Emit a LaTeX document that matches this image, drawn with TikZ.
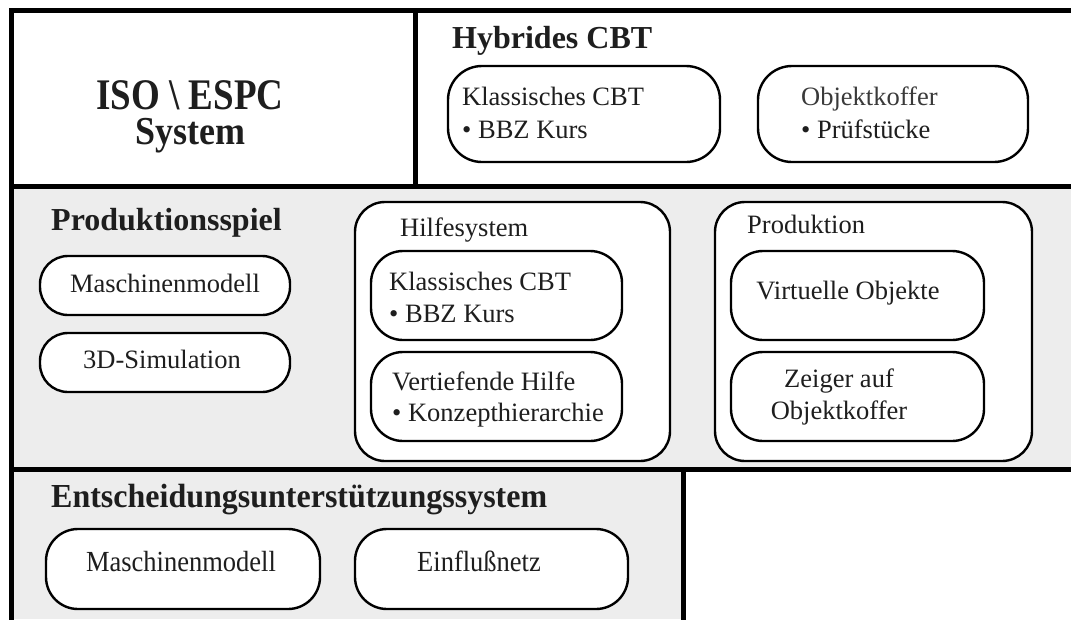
\documentclass[tikz,border=0pt]{standalone}
\usepackage{fontspec}
\setmainfont{Liberation Serif}
\usepackage{graphicx}
\definecolor{ink}{HTML}{1E1E1E}
\definecolor{softink}{HTML}{3A3A3A}
\definecolor{panel}{HTML}{EDEDED}
\tikzset{
  frameline/.style={line width=5pt, line cap=rect},
  rbox/.style={draw=black, line width=2.4pt, fill=white, rounded corners=#1},
  rbox/.default=30pt,
  txt/.style={inner sep=0pt, text=ink, font=\fontsize{26.5}{30}\selectfont},
  head/.style={inner sep=0pt, text=ink, font=\fontsize{32}{36}\selectfont\bfseries},
  bighead/.style={inner sep=0pt, text=ink, align=center,
    font={\fontsize{37}{35}\selectfont\bfseries}},
}
\begin{document}
\begin{tikzpicture}[x=1pt,y=-1pt]
\useasboundingbox (0,0) rectangle (1071,619);
% panels
\fill[panel] (11,186) rectangle (1071,469);
\fill[panel] (11,469) rectangle (683,619);
% frame lines
\coordinate (tl) at (11,10);
\coordinate (tr) at (1071,10);
\coordinate (bl) at (11,619);
\coordinate (s1l) at (11,186);
\coordinate (s1r) at (1071,186);
\coordinate (s2l) at (11,469);
\coordinate (s2r) at (1071,469);
\coordinate (dvt) at (415,10);
\coordinate (dvb) at (415,186);
\coordinate (brt) at (683,469);
\coordinate (brb) at (683,619);
\draw[frameline] (tl) -- (tr);
\draw[frameline] (tl) -- (bl);
\draw[frameline] (s1l) -- (s1r);
\draw[frameline] (s2l) -- (s2r);
\draw[frameline] (dvt) -- (dvb);
\draw[frameline] (brt) -- (brb);

% top left
\node[bighead, anchor=north] (iso) at (190,80)
  {\scalebox{1}[1.18]{ISO \textbackslash{} ESPC}\\ {\fontsize{36}{35}\selectfont\scalebox{1}[1.1]{System}}};

% Hybrides CBT
\node[head, anchor=base west] (hyb) at (452,48) {Hybrides CBT};
\draw[rbox=34pt] (448,66) rectangle (720,162);
\draw[rbox=34pt] (758,66) rectangle (1028,162);
\node[txt, anchor=base west] (hk1) at (462,105) {Klassisches CBT};
\node[txt, anchor=base west] (hk2) at (462,138) {• BBZ Kurs};
\node[txt, anchor=base west, text=softink] (ho1) at (801,105) {Objektkoffer};
\node[txt, anchor=base west] (ho2) at (801,138) {• Prüfstücke};

% Produktionsspiel
\node[head, anchor=base west] (ps) at (51,230) {Produktionsspiel};
\draw[rbox=28pt] (40,256) rectangle (290,315);
\draw[rbox=28pt] (40,333) rectangle (290,392);
\node[txt, anchor=base] (mm1) at (165,292) {Maschinenmodell};
\node[txt, anchor=base] (sim) at (162,368) {3D-Simulation};

% Hilfesystem
\draw[rbox=30pt] (355,202) rectangle (670,461);
\node[txt, anchor=base west] (hs) at (400,236) {Hilfesystem};
\draw[rbox=32pt] (371,251) rectangle (622,340);
\draw[rbox=32pt] (371,352) rectangle (622,441);
\node[txt, anchor=base west] (hsk1) at (389,290) {Klassisches CBT};
\node[txt, anchor=base west] (hsk2) at (389,322) {• BBZ Kurs};
\node[txt, anchor=base west] (hsv1) at (392,390) {Vertiefende Hilfe};
\node[txt, anchor=base west] (hsv2) at (392,421) {• Konzepthierarchie};

% Produktion
\draw[rbox=30pt] (715,202) rectangle (1032,461);
\node[txt, anchor=base west] (pr) at (747,233) {Produktion};
\draw[rbox=32pt] (731,251) rectangle (984,340);
\draw[rbox=32pt] (731,352) rectangle (984,441);
\node[txt, anchor=base] (vo) at (848,299) {Virtuelle Objekte};
\node[txt, anchor=base] (z1) at (839,387) {Zeiger auf};
\node[txt, anchor=base] (z2) at (839,419) {Objektkoffer};

% Entscheidungsunterstuetzungssystem
\node[head, anchor=base west] (es) at (51,507) {\scalebox{1}[1.05]{Entscheidungsunterstützungssystem}};
\draw[rbox=32pt] (46,529) rectangle (320,609);
\draw[rbox=32pt] (355,529) rectangle (628,609);
\node[txt, anchor=base] (mm2) at (181,571) {\scalebox{1}[1.1]{Maschinenmodell}};
\node[txt, anchor=base] (ein) at (479,571) {\scalebox{1}[1.1]{Einflußnetz}};
\end{tikzpicture}
\end{document}
